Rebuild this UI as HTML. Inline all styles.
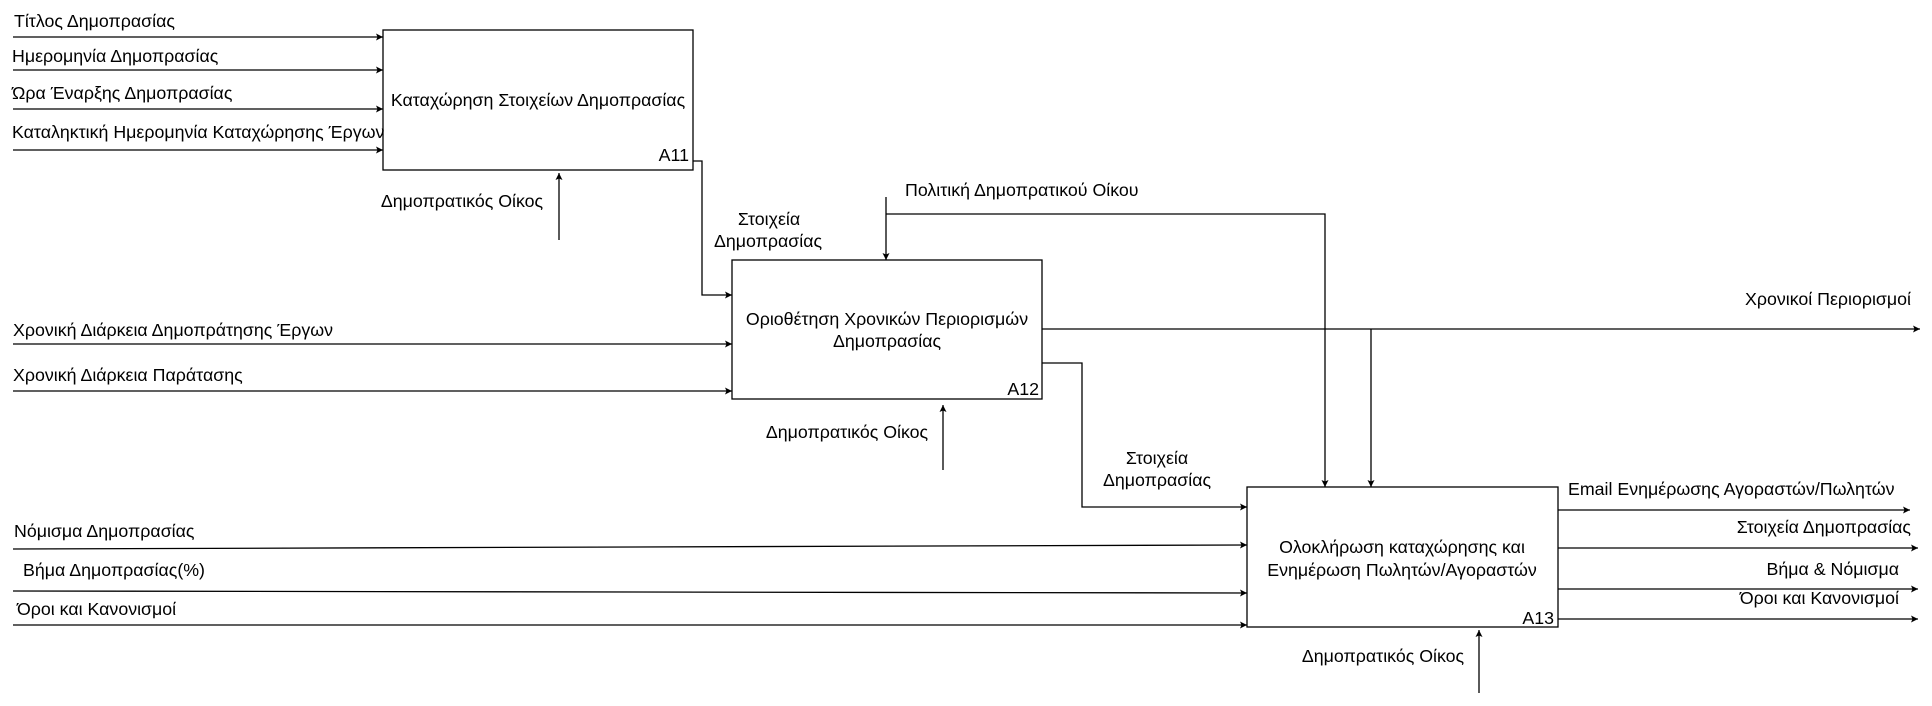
<!DOCTYPE html>
<html><head><meta charset="utf-8"><style>
html,body{margin:0;padding:0;background:#fff;}
svg{display:block;}
text{font-family:"Liberation Sans",sans-serif;font-size:17.8px;fill:#000;dominant-baseline:central;}
</style></head><body>
<svg width="1932" height="706" viewBox="0 0 1932 706" xmlns="http://www.w3.org/2000/svg">
<defs>
<marker id="a" markerWidth="8" markerHeight="8" refX="7" refY="4" orient="auto" markerUnits="userSpaceOnUse">
<path d="M0,0.5 L7,4 L0,7.5 L1.5,4 Z" fill="#000"/>
</marker>
</defs>
<g fill="none" stroke="#000" stroke-width="1.3">
<rect x="383" y="30" width="310" height="140"/>
<rect x="732" y="260" width="310" height="139"/>
<rect x="1247" y="487" width="311" height="140"/>
<line x1="13" y1="37" x2="383" y2="37" marker-end="url(#a)"/>
<line x1="13" y1="70" x2="383" y2="70" marker-end="url(#a)"/>
<line x1="13" y1="109" x2="383" y2="109" marker-end="url(#a)"/>
<line x1="13" y1="150" x2="383" y2="150" marker-end="url(#a)"/>
<line x1="559" y1="240" x2="559" y2="173" marker-end="url(#a)"/>
<polyline points="693,161 702,161 702,295 732,295" marker-end="url(#a)"/>
<line x1="886" y1="197" x2="886" y2="260" marker-end="url(#a)"/>
<polyline points="886,214 1325,214 1325,487" marker-end="url(#a)"/>
<line x1="13" y1="344" x2="732" y2="344" marker-end="url(#a)"/>
<line x1="13" y1="391" x2="732" y2="391" marker-end="url(#a)"/>
<line x1="943" y1="470" x2="943" y2="405" marker-end="url(#a)"/>
<line x1="1042" y1="329" x2="1920" y2="329" marker-end="url(#a)"/>
<line x1="1371" y1="329" x2="1371" y2="487" marker-end="url(#a)"/>
<polyline points="1042,363 1082,363 1082,507 1247,507" marker-end="url(#a)"/>
<line x1="13" y1="549" x2="1247" y2="545" marker-end="url(#a)"/>
<line x1="13" y1="591" x2="1247" y2="593" marker-end="url(#a)"/>
<line x1="13" y1="625" x2="1247" y2="625" marker-end="url(#a)"/>
<line x1="1479" y1="693" x2="1479" y2="630" marker-end="url(#a)"/>
<line x1="1558" y1="510" x2="1910" y2="510" marker-end="url(#a)"/>
<line x1="1558" y1="548" x2="1918" y2="548" marker-end="url(#a)"/>
<line x1="1558" y1="589" x2="1918" y2="589" marker-end="url(#a)"/>
<line x1="1558" y1="619" x2="1918" y2="619" marker-end="url(#a)"/>
</g>
<text x="14" y="21">Τίτλος Δημοπρασίας</text>
<text x="12" y="56">Ημερομηνία Δημοπρασίας</text>
<text x="12" y="93">Ώρα Έναρξης Δημοπρασίας</text>
<text x="12" y="132">Καταληκτική Ημερομηνία Καταχώρησης Έργων</text>
<text x="538" y="100" text-anchor="middle">Καταχώρηση Στοιχείων Δημοπρασίας</text>
<text x="689" y="155" text-anchor="end">A11</text>
<text x="462" y="201" text-anchor="middle">Δημοπρατικός Οίκος</text>
<text x="769" y="219" text-anchor="middle">Στοιχεία</text>
<text x="768" y="241" text-anchor="middle">Δημοπρασίας</text>
<text x="905" y="190">Πολιτική Δημοπρατικού Οίκου</text>
<text x="13" y="330">Χρονική Διάρκεια Δημοπράτησης Έργων</text>
<text x="13" y="375">Χρονική Διάρκεια Παράτασης</text>
<text x="887" y="319" text-anchor="middle">Οριοθέτηση Χρονικών Περιορισμών</text>
<text x="887" y="341" text-anchor="middle">Δημοπρασίας</text>
<text x="1039" y="389" text-anchor="end">A12</text>
<text x="847" y="432" text-anchor="middle">Δημοπρατικός Οίκος</text>
<text x="1911" y="299" text-anchor="end">Χρονικοί Περιορισμοί</text>
<text x="1157" y="458" text-anchor="middle">Στοιχεία</text>
<text x="1157" y="480" text-anchor="middle">Δημοπρασίας</text>
<text x="14" y="531">Νόμισμα Δημοπρασίας</text>
<text x="23" y="570">Βήμα Δημοπρασίας(%)</text>
<text x="17" y="609">Όροι και Κανονισμοί</text>
<text x="1402" y="547" text-anchor="middle">Ολοκλήρωση καταχώρησης και</text>
<text x="1402" y="570" text-anchor="middle">Ενημέρωση Πωλητών/Αγοραστών</text>
<text x="1554" y="618" text-anchor="end">A13</text>
<text x="1383" y="656" text-anchor="middle">Δημοπρατικός Οίκος</text>
<text x="1568" y="489">Email Ενημέρωσης Αγοραστών/Πωλητών</text>
<text x="1911" y="527" text-anchor="end">Στοιχεία Δημοπρασίας</text>
<text x="1899" y="569" text-anchor="end">Βήμα &amp; Νόμισμα</text>
<text x="1899" y="598" text-anchor="end">Όροι και Κανονισμοί</text>
</svg>
</body></html>
